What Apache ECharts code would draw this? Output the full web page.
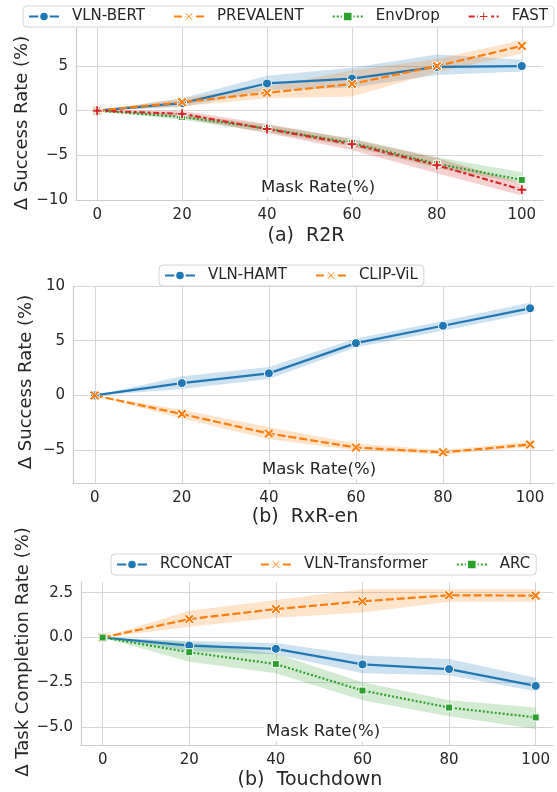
<!DOCTYPE html>
<html>
<head>
<meta charset="utf-8">
<script src="https://cdn.jsdelivr.net/npm/echarts@6/dist/echarts.min.js"></script>
<style>
  html, body { margin: 0; padding: 0; background: #fff; }
  #chart { width: 557px; height: 792px; }
</style>
</head>
<body>
<div id="chart"></div>
<script>
// mask rate (x axis of every panel)
var maskRate = [0, 20, 40, 60, 80, 100];

// (a) R2R, Δ success rate (%) with its shaded band
var vlnBert = [0, 0.85, 3.05, 3.6, 4.9, 5.0];
var vlnBertLo = [0, 0.4, 2.3, 2.6, 4.0, 4.4];
var vlnBertHi = [0, 1.4, 3.9, 4.8, 6.3, 5.7];
var prevalent = [0, 0.95, 2.0, 3.0, 5.0, 7.25];
var prevalentLo = [0, 0.5, 1.4, 1.6, 4.3, 6.4];
var prevalentHi = [0, 1.4, 2.7, 4.5, 5.8, 7.9];
var envDrop = [0, -0.7, -2.0, -3.6, -5.95, -7.75];
var envDropLo = [0, -1.0, -2.4, -4.0, -6.45, -8.1];
var envDropHi = [0, -0.35, -1.6, -3.1, -5.2, -6.9];
var fast = [0, -0.35, -2.05, -3.75, -6.1, -8.85];
var fastLo = [0, -0.8, -2.5, -4.4, -7.0, -9.5];
var fastHi = [0, 0, -1.5, -3.2, -5.3, -8.1];

// (b) RxR-en
var vlnHamt = [0, 1.13, 2.02, 4.78, 6.37, 7.96];
var vlnHamtLo = [0, 0.6, 1.5, 4.4, 5.9, 7.5];
var vlnHamtHi = [0, 1.75, 2.6, 5.2, 6.8, 8.5];
var clipVil = [0, -1.7, -3.48, -4.76, -5.2, -4.48];
var clipVilLo = [0, -2.1, -4.0, -5.0, -5.4, -4.7];
var clipVilHi = [0, -1.3, -2.9, -4.4, -5.0, -4.2];

// (b) Touchdown, Δ task completion rate (%)
var rconcat = [0, -0.45, -0.63, -1.5, -1.76, -2.7];
var rconcatLo = [0, -0.75, -0.95, -2.0, -2.1, -3.0];
var rconcatHi = [0, -0.2, -0.3, -1.0, -1.2, -2.25];
var vlnTransformer = [0, 1.03, 1.59, 2.02, 2.36, 2.34];
var vlnTransformerLo = [0, 0.6, 1.1, 1.4, 2.0, 2.0];
var vlnTransformerHi = [0, 1.5, 2.1, 2.7, 2.7, 2.7];
var arc = [0, -0.82, -1.48, -2.96, -3.91, -4.46];
var arcLo = [0, -1.35, -2.0, -3.5, -4.4, -5.1];
var arcHi = [0, -0.25, -0.9, -2.5, -3.5, -3.9];

var FONT = "DejaVu Sans";
var INK = "#262626";
var GRID_LINE = "#d6d6d6";
var BLUE = "#1f77b4", ORANGE = "#ff7f0e", GREEN = "#2ca02c", RED = "#d62728";

var X_MARK = "path://M0,2 L2,0 L5,3 L8,0 L10,2 L7,5 L10,8 L8,10 L5,7 L2,10 L0,8 L3,5 Z";
var P_MARK = "path://M3.5,0 H6.5 V3.5 H10 V6.5 H6.5 V10 H3.5 V6.5 H0 V3.5 H3.5 Z";

// 刻度标签：只标 step 的整数倍，负号用 U+2212
function tickText(step, digits) {
  return function (v) {
    var k = v / step;
    if (Math.abs(k - Math.round(k)) > 1e-6) return "";
    var s = Math.abs(v).toFixed(digits);
    return v < -1e-9 ? "\u2212" + s : s;
  };
}

function hexToRgba(hex, a) {
  var n = parseInt(hex.slice(1), 16);
  return "rgba(" + (n >> 16) + "," + ((n >> 8) & 255) + "," + (n & 255) + "," + a + ")";
}

function pairs(ys) {
  return maskRate.map(function (x, i) { return [x, ys[i]]; });
}

// 置信带：用坐标轴把数据换算成多边形
function band(name, lo, hi, color, idx) {
  return {
    type: "custom",
    name: name + " band",
    xAxisIndex: idx,
    yAxisIndex: idx,
    z: 1,
    silent: true,
    data: maskRate.map(function (x, i) { return [x, lo[i], hi[i]]; }),
    encode: { x: 0, y: [1, 2] },
    renderItem: function (params, api) {
      if (params.dataIndex !== 0) return;
      var pts = [];
      for (var i = 0; i < maskRate.length; i++) pts.push(api.coord([maskRate[i], hi[i]]));
      for (var j = maskRate.length - 1; j >= 0; j--) pts.push(api.coord([maskRate[j], lo[j]]));
      return {
        type: "polygon",
        shape: { points: pts },
        style: { fill: hexToRgba(color, 0.22), stroke: null }
      };
    }
  };
}

function line(name, ys, color, symbol, size, dash, idx) {
  return {
    type: "line",
    name: name,
    xAxisIndex: idx,
    yAxisIndex: idx,
    z: 3,
    data: pairs(ys),
    symbol: symbol,
    symbolSize: size,
    showSymbol: true,
    lineStyle: { color: color, width: 2.2, type: dash },
    itemStyle: { color: color, borderColor: "#fff", borderWidth: 1 },
    emphasis: { disabled: true }
  };
}

function xAxisAt(idx, max) {
  return {
    type: "value",
    gridIndex: idx,
    min: -5,
    max: max,
    minInterval: 20,
    maxInterval: 20,
    axisLine: { show: true, onZero: false, lineStyle: { color: "#cccccc", width: 1.2 } },
    axisTick: { show: false },
    axisLabel: { color: INK, fontFamily: FONT, fontSize: 15, margin: 8, formatter: tickText(20, 0) },
    splitLine: { show: true, showMinLine: false, showMaxLine: false, lineStyle: { color: GRID_LINE, width: 1 } }
  };
}

function yAxisAt(idx, min, max, step, digits, topLine) {
  return {
    type: "value",
    gridIndex: idx,
    min: min,
    max: max,
    minInterval: step,
    maxInterval: step,
    axisLine: { show: true, onZero: false, lineStyle: { color: "#cccccc", width: 1.2 } },
    axisTick: { show: false },
    axisLabel: { color: INK, fontFamily: FONT, fontSize: 15, margin: 8, formatter: tickText(step, digits) },
    splitLine: { show: true, showMinLine: false, showMaxLine: topLine, lineStyle: { color: GRID_LINE, width: 1 } }
  };
}

function legendAt(names, left, top) {
  return {
    data: names,
    left: left,
    top: top,
    itemWidth: 30,
    itemHeight: 12,
    itemGap: 28,
    padding: [3, 6, 3, 5],
    backgroundColor: "rgba(255,255,255,0.85)",
    borderColor: "#d4d4d4",
    borderWidth: 1,
    borderRadius: 4,
    selectedMode: false,
    textStyle: { fontFamily: FONT, fontSize: 15, color: INK, padding: [0, 0, 0, 8] }
  };
}

function label(text, x, y, size, rotate, boxed) {
  var el = {
    type: "text",
    x: x,
    y: y,
    rotation: rotate ? Math.PI / 2 : 0,
    z: 10,
    style: {
      text: text,
      fontFamily: FONT,
      fontSize: size,
      fill: INK,
      align: "center",
      verticalAlign: "middle"
    }
  };
  if (boxed) {
    el.style.backgroundColor = "#fff";
    el.style.padding = [1, 2, 1, 2];
  }
  return el;
}

var dashed = [8, 3];
var dotted = [2, 2];
var dashDot = [6, 2.5, 3, 2.5];

var option = {
  animation: false,
  backgroundColor: "#fff",
  grid: [
    { left: 76, top: 28, width: 467, height: 172 },
    { left: 73, top: 286, width: 481, height: 197 },
    { left: 81, top: 582, width: 472, height: 163 }
  ],
  xAxis: [xAxisAt(0, 105), xAxisAt(1, 105.5), xAxisAt(2, 104)],
  yAxis: [
    yAxisAt(0, -10, 9.26, 5, 0, false),
    yAxisAt(1, -8, 10, 5, 0, true),
    yAxisAt(2, -6, 3.1, 2.5, 1, false)
  ],
  legend: [
    legendAt(["VLN-BERT", "PREVALENT", "EnvDrop", "FAST"], 23, 6),
    legendAt(["VLN-HAMT", "CLIP-ViL"], 159, 265),
    legendAt(["RCONCAT", "VLN-Transformer", "ARC"], 111, 554)
  ],
  graphic: [
    label("Mask Rate(%)", 318, 188, 16.5, false, true),
    label("(a)  R2R", 306, 236, 19, false, false),
    label("\u0394 Success Rate (%)", 22, 123, 18, true, false),
    label("Mask Rate(%)", 319, 470, 16.5, false, true),
    label("(b)  RxR-en", 305, 517, 19, false, false),
    label("\u0394 Success Rate (%)", 26, 382, 18, true, false),
    label("Mask Rate(%)", 323, 732, 16.5, false, true),
    label("(b)  Touchdown", 310, 780, 19, false, false),
    label("\u0394 Task Completion Rate (%)", 23, 652, 18, true, false)
  ],
  series: [
    band("VLN-BERT", vlnBertLo, vlnBertHi, BLUE, 0),
    band("PREVALENT", prevalentLo, prevalentHi, ORANGE, 0),
    band("EnvDrop", envDropLo, envDropHi, GREEN, 0),
    band("FAST", fastLo, fastHi, RED, 0),
    line("VLN-BERT", vlnBert, BLUE, "circle", 9, "solid", 0),
    line("PREVALENT", prevalent, ORANGE, X_MARK, 10, dashed, 0),
    line("EnvDrop", envDrop, GREEN, "rect", 7, dotted, 0),
    line("FAST", fast, RED, P_MARK, 10, dashDot, 0),

    band("VLN-HAMT", vlnHamtLo, vlnHamtHi, BLUE, 1),
    band("CLIP-ViL", clipVilLo, clipVilHi, ORANGE, 1),
    line("VLN-HAMT", vlnHamt, BLUE, "circle", 9, "solid", 1),
    line("CLIP-ViL", clipVil, ORANGE, X_MARK, 10, dashed, 1),

    band("RCONCAT", rconcatLo, rconcatHi, BLUE, 2),
    band("VLN-Transformer", vlnTransformerLo, vlnTransformerHi, ORANGE, 2),
    band("ARC", arcLo, arcHi, GREEN, 2),
    line("RCONCAT", rconcat, BLUE, "circle", 9, "solid", 2),
    line("VLN-Transformer", vlnTransformer, ORANGE, X_MARK, 10, dashed, 2),
    line("ARC", arc, GREEN, "rect", 7, dotted, 2)
  ]
};

var chart = echarts.init(document.getElementById("chart"), null, { renderer: "canvas" });
chart.setOption(option);
</script>
</body>
</html>
